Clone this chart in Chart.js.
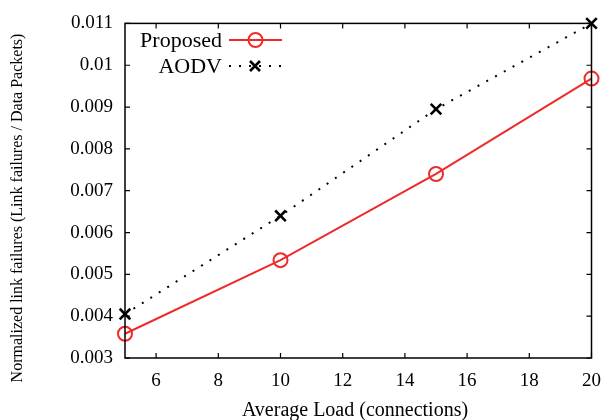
<!DOCTYPE html>
<html>
<head>
<meta charset="utf-8">
<script src="https://cdn.jsdelivr.net/npm/chart.js@4/dist/chart.umd.min.js"></script>
<style>
  html, body { margin: 0; padding: 0; background: #fff; }
  canvas { display: block; }
</style>
</head>
<body>
<canvas id="chart" width="613" height="420"></canvas>
<script>
// data
const loads = [5, 10, 15, 20];
const proposed = [0.00358, 0.00534, 0.0074, 0.00968];
const aodv = [0.00405, 0.0064, 0.00895, 0.011];
const xTicks = [6, 8, 10, 12, 14, 16, 18, 20];
const yTicks = [0.003, 0.004, 0.005, 0.006, 0.007, 0.008, 0.009, 0.01, 0.011];

const RED = "#ee2a2a";
const SERIF = "'Liberation Serif', 'Times New Roman', serif";
Chart.defaults.font.family = SERIF;

const toPoints = (ys) => loads.map((x, i) => ({ x: x, y: ys[i] }));

// box round the plot, with ticks pointing inward on all four sides
const frame = {
  id: "frame",
  afterDraw(chart) {
    const { ctx, chartArea: a, scales } = chart;
    ctx.save();
    ctx.strokeStyle = "#000";
    ctx.lineWidth = 1.5;
    ctx.strokeRect(a.left, a.top, a.right - a.left, a.bottom - a.top);
    ctx.lineWidth = 1.2;
    ctx.beginPath();
    scales.x.ticks.forEach((t) => {
      const px = scales.x.getPixelForValue(t.value);
      ctx.moveTo(px, a.bottom); ctx.lineTo(px, a.bottom - 5);
      ctx.moveTo(px, a.top); ctx.lineTo(px, a.top + 5);
    });
    scales.y.ticks.forEach((t) => {
      const py = scales.y.getPixelForValue(t.value);
      ctx.moveTo(a.left, py); ctx.lineTo(a.left + 5, py);
      ctx.moveTo(a.right, py); ctx.lineTo(a.right - 5, py);
    });
    ctx.stroke();

    // axis titles
    ctx.fillStyle = "#000";
    ctx.font = "20px " + SERIF;
    ctx.textAlign = "center";
    ctx.textBaseline = "alphabetic";
    ctx.fillText("Average Load (connections)", 355, 416);

    ctx.save();
    ctx.translate(22, 208);
    ctx.rotate(-Math.PI / 2);
    ctx.font = "16px " + SERIF;
    ctx.fillText("Normalized link failures (Link failures / Data Packets)", 0, 0);
    ctx.restore();

    // key, top left inside the plot
    ctx.font = "22px " + SERIF;
    ctx.textAlign = "right";
    ctx.fillText("Proposed", 222, 47);
    ctx.fillText("AODV", 222, 73);

    ctx.strokeStyle = RED;
    ctx.lineWidth = 2;
    ctx.beginPath();
    ctx.moveTo(229, 40); ctx.lineTo(282, 40);
    ctx.stroke();
    ctx.beginPath();
    ctx.arc(255.5, 40, 7, 0, Math.PI * 2);
    ctx.stroke();

    ctx.strokeStyle = "#000";
    ctx.setLineDash([2, 8]);
    ctx.beginPath();
    ctx.moveTo(229, 66); ctx.lineTo(282, 66);
    ctx.stroke();
    ctx.setLineDash([]);
    ctx.lineWidth = 2.6;
    ctx.beginPath();
    ctx.moveTo(250, 61); ctx.lineTo(260, 71);
    ctx.moveTo(260, 61); ctx.lineTo(250, 71);
    ctx.stroke();
    ctx.restore();
  },
};

new Chart(document.getElementById("chart"), {
  type: "line",
  data: {
    datasets: [
      {
        label: "Proposed",
        data: toPoints(proposed),
        borderColor: RED,
        borderWidth: 2,
        pointStyle: "circle",
        pointRadius: 7,
        pointBorderWidth: 2,
        pointBorderColor: RED,
        pointBackgroundColor: "rgba(0,0,0,0)",
        clip: false,
      },
      {
        label: "AODV",
        data: toPoints(aodv),
        borderColor: "#000",
        borderWidth: 2,
        borderDash: [2, 8],
        pointStyle: "crossRot",
        pointRadius: 7.5,
        pointBorderWidth: 2.6,
        pointBorderColor: "#000",
        clip: false,
      },
    ],
  },
  options: {
    responsive: false,
    devicePixelRatio: 1,
    animation: false,
    layout: { padding: { top: 18, right: 12, left: 0, bottom: 0 } },
    plugins: { legend: { display: false }, tooltip: { enabled: false } },
    scales: {
      x: {
        type: "linear",
        min: 5,
        max: 20,
        afterBuildTicks: (s) => { s.ticks = xTicks.map((v) => ({ value: v })); },
        afterFit: (s) => { s.height = 62; },
        grid: { display: false, drawTicks: false },
        border: { display: false },
        ticks: { padding: 12, color: "#000", font: { family: SERIF, size: 19 } },
      },
      y: {
        min: 0.003,
        max: 0.011,
        afterBuildTicks: (s) => { s.ticks = yTicks.map((v) => ({ value: v })); },
        afterFit: (s) => { s.width = 125; },
        grid: { display: false, drawTicks: false },
        border: { display: false },
        ticks: {
          padding: 12,
          color: "#000",
          font: { family: SERIF, size: 19 },
          callback: (v) => (v === 0.01 ? "0.01" : v.toFixed(3)),
        },
      },
    },
  },
  plugins: [frame],
});
</script>
</body>
</html>
